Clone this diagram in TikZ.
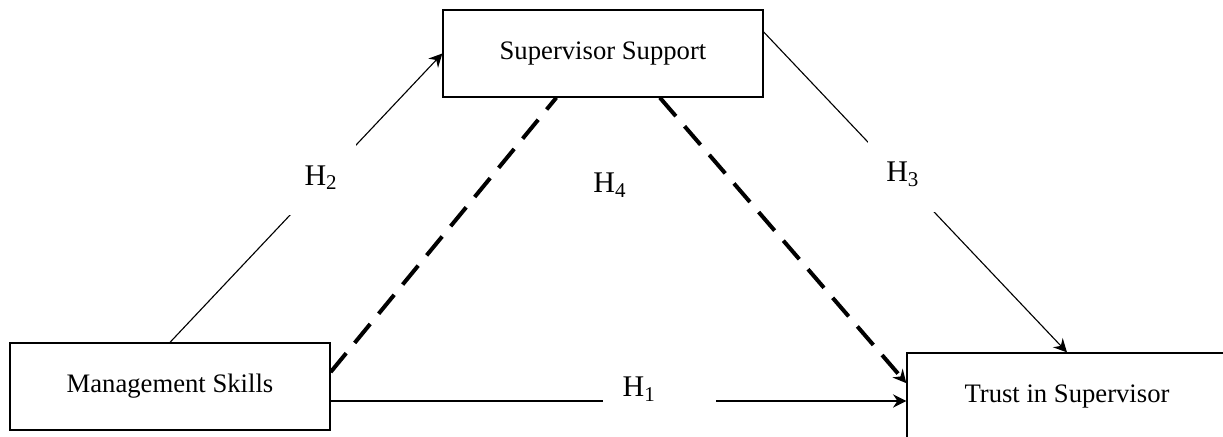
\documentclass[tikz,border=0pt]{standalone}
\usepackage{fontspec}
\setmainfont{Liberation Serif}
\usepackage{tikz}
\usetikzlibrary{calc,arrows.meta}
\tikzset{>={Stealth[length=6pt,width=6pt,inset=2pt]}}
\tikzset{var/.style={draw,line width=0.6pt,minimum width=144pt,minimum height=39.15pt,font=\fontsize{12}{14}\selectfont},
  hyp/.style={fill=white,inner sep=0pt,font=\fontsize{13.5}{16}\selectfont},
  med/.style={line width=1.8pt,dash pattern=on 11pt off 6pt}}

\begin{document}
\begin{tikzpicture}[x=0.45pt,y=-0.45pt]
    \useasboundingbox (0,0) rectangle (1223,436);
    \node[var] (ms) at (170,386.5) {Management Skills};
    \node[var] (ss) at (603,53.5) {Supervisor Support};
    \node[var] (ts) at (1067,396.5) {Trust in Supervisor};

    % direct path
    \draw[line width=0.7pt,->] ([yshift=-6.5pt]ms.east) -- ([yshift=-6.5pt]ms.east -| ts.west)
        node[hyp,pos=0.571,yshift=5.4pt,minimum height=18pt,inner xsep=9pt]{H\textsubscript{1}\kern18pt};
    \draw[line width=0.5pt,->] (ms.north) -- (ss.west)
        node[hyp,pos=0.555,yshift=2pt,minimum width=31pt,minimum height=34pt]{H\textsubscript{2}};
    \draw[line width=0.5pt,->] ([yshift=9.7pt]ss.east) -- (ts.north)
        node[hyp,pos=0.459,yshift=2pt,minimum width=31pt,minimum height=34pt]{H\textsubscript{3}};

    % mediation
    \draw[med] ([yshift=6.5pt]ms.east) -- ([xshift=-21pt]ss.south);
    \draw[med,->] ([xshift=25.6pt]ss.south) -- ([yshift=6pt]ts.west);
    \node[hyp] (h4) at (610,185) {H\textsubscript{4}};
     \end{tikzpicture}
\end{document}
